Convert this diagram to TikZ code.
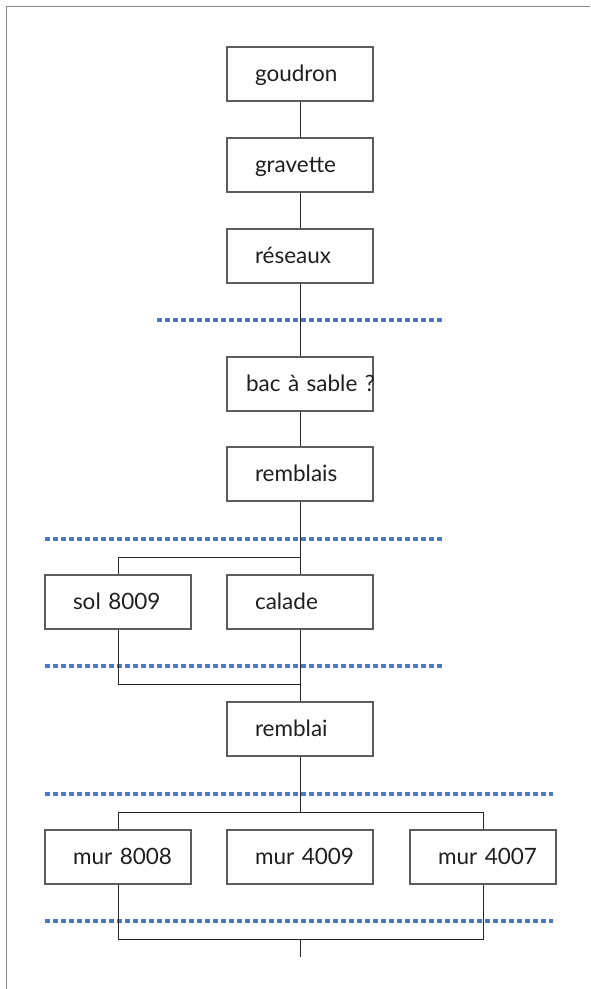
\documentclass[tikz,border=0pt]{standalone}
\usepackage{fontspec}
\setmainfont{Lato}
\definecolor{phaseblue}{HTML}{4A78C2}
\definecolor{boxgray}{HTML}{5C5C5C}
\definecolor{framegray}{HTML}{8C8C8C}

\begin{document}
\begin{tikzpicture}[x=1pt, y=-1pt,
    unit/.style={draw=boxgray, line width=1.1pt, minimum width=146pt, minimum height=54pt,
      text width=90pt, inner xsep=28pt, inner ysep=0pt, align=left,
      text height=16pt, text depth=1.4pt, font=\fontsize{22.5}{26}\selectfont, text=black!88,
      execute at begin node=\noindent\hbox\bgroup, execute at end node=\egroup},
    phase/.style={draw=phaseblue, line width=4.5pt, dash pattern=on 5pt off 3pt},
    link/.style={draw=black!85, line width=1pt}]
    \useasboundingbox (0,0) rectangle (590,989);
    \draw[framegray, line width=1.5pt] (6.7,989) -- (6.7,6.7) -- (590,6.7);

    % separators
    \draw[phase] (157,320) -- (445,320);
    \draw[phase] (45,539) -- (445,539);
    \draw[phase] (45,666) -- (445,666);
    \draw[phase] (45,794) -- (553,794);
    \draw[phase] (45,921) -- (553,921);

    \node[unit] (goudron) at (300,74) {goudron};
    \node[unit] (gravette) at (300,165) {gravette};
    \node[unit] (reseaux) at (300,256) {réseaux};
    \node[unit] (bac) at (300,384) {\hspace*{-9pt}bac à sable ?};
    \node[unit] (remblais) at (300,474) {remblais};
    \node[unit] (sol) at (118,602) {sol 8009};
    \node[unit] (calade) at (300,602) {calade};
    \node[unit] (remblai) at (300,729) {remblai};
    \node[unit] (mur8008) at (118,857) {mur 8008};
    \node[unit] (mur4009) at (300,857) {mur 4009};
    \node[unit] (mur4007) at (483,857) {mur 4007};

    \coordinate (split1) at (300,557);
    \coordinate (join1) at (300,684);
    \coordinate (split2) at (300,812);
    \coordinate (join2) at (300,939);
    \coordinate (tail) at (300,957);

    \draw[link] (goudron) -- (gravette);
    \draw[link] (gravette) -- (reseaux);
    \draw[link] (reseaux) -- (bac);
    \draw[link] (bac) -- (remblais);
    \draw[link] (remblais) -- (calade);
    \draw[link] (split1) -| (sol.north);
    \draw[link] (sol.south) |- (join1);
    \draw[link] (calade) -- (remblai);
    \draw[link] (remblai) -- (split2);
    \draw[link] (mur8008.north) |- (split2) -| (mur4007.north);
    \draw[link] (mur8008.south) |- (join2) -| (mur4007.south);
    \draw[link] (join2) -- (tail);
\end{tikzpicture}
\end{document}
